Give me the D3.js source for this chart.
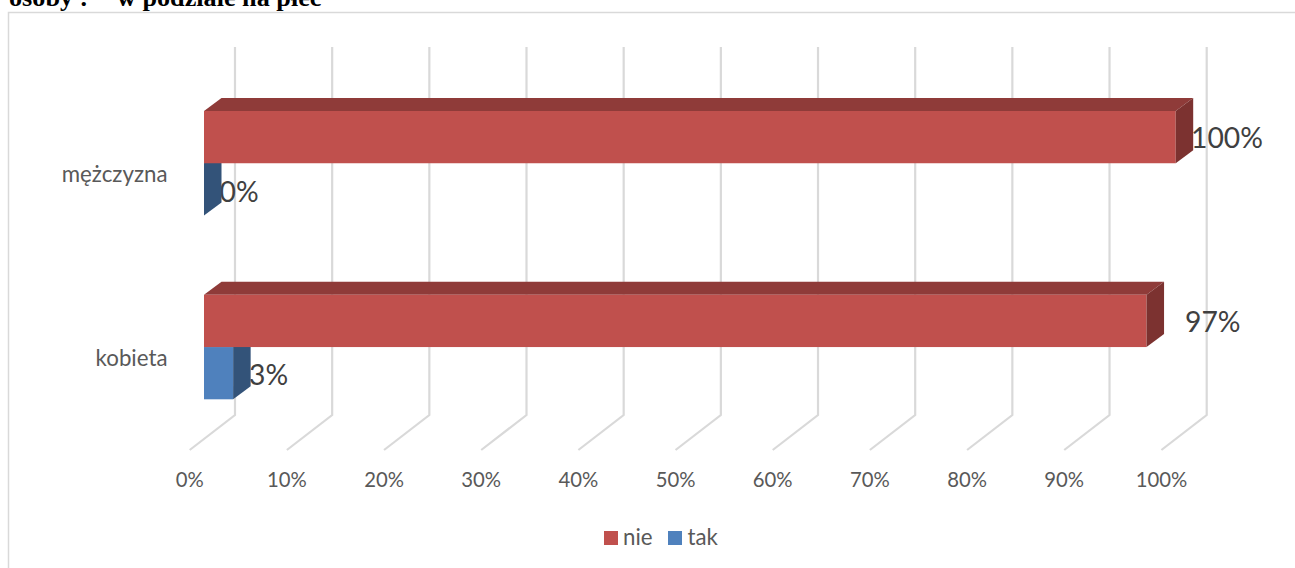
<!DOCTYPE html>
<html><head><meta charset="utf-8">
<script src="https://cdn.jsdelivr.net/npm/d3@7"></script>
<style>html,body{margin:0;padding:0;background:#fff}svg{display:block}</style>
</head><body><div id="chart"></div>
<script>
const categories = ["mężczyzna", "kobieta"];
const seriesNames = ["nie", "tak"];
const nieValues = [100, 97];
const takValues = [0, 3];
const tickValues = [0,10,20,30,40,50,60,70,80,90,100];
const colors = {nie:"#c0504d", tak:"#4f81bd"};
const topColors = {nie:"#8f3b39", tak:"#3a5f8c"};
const sideColors = {nie:"#7c3230", tak:"#335379"};
const W=1295,H=568;
const sans="Lato, 'Open Sans', sans-serif";
const svg=d3.select("#chart").append("svg").attr("width",W).attr("height",H);
const dx=17.5, dy=13;
const x=d3.scaleLinear().domain([0,100]).range([204,1175.7]);
const yCat=d3.scaleBand().domain(categories).range([111,399.3]).paddingInner(0.4315).paddingOuter(0);
const ySer=d3.scaleBand().domain(seriesNames).range([0,yCat.bandwidth()]);

const serif="'Liberation Serif',serif";
svg.append("text").attr("x",9).attr("y",5.5).attr("font-family",serif).attr("font-weight","bold")
  .attr("font-size",26.2).attr("fill","#000").text("osoby :");
svg.append("text").attr("x",117).attr("y",5.5).attr("font-family",serif).attr("font-weight","bold")
  .attr("font-size",26.2).attr("fill","#000").text("w podziale na płeć");
svg.append("path").attr("d",`M8.5,568V12.5H1295`).attr("fill","none").attr("stroke","#d9d9d9").attr("stroke-width",1.5);

const gridTop=47, gridBottom=415, floorY=450;
const floorBack=31, floorFront=-14.3;
const grid=svg.append("g");
tickValues.forEach(t=>{
  grid.append("path")
   .attr("d",`M${x(t)+floorBack},${gridTop}V${gridBottom}L${x(t)+floorFront},${floorY}`)
   .attr("fill","none").attr("stroke","#d9d9d9").attr("stroke-width",2.2);
  svg.append("text").attr("x",x(t)+floorFront).attr("y",487).attr("text-anchor","middle")
   .attr("font-family",sans).attr("font-size",20.3).attr("fill","#595959").text(t+"%");
});

const labelPos={nie:[[1191,147.5],[1185,332]],tak:[[219.5,201.5],[249,385]]};
[["nie",nieValues],["tak",takValues]].forEach(([n,vals])=>{
  vals.forEach((v,i)=>{
    svg.append("text").attr("x",labelPos[n][i][0]).attr("y",labelPos[n][i][1])
     .attr("font-family",sans).attr("font-size",28.3).attr("fill","#404040").text(v+"%");
  });
});

function bar(g,name,cat,v){
  const x0=x(0),x1=x(v),y0=yCat(cat)+ySer(name),y1=y0+ySer.bandwidth();
  const pts=a=>a.map(p=>p.join(",")).join(" ");
  if(v>0){
    g.append("polygon").attr("points",pts([[x0,y0],[x0+dx,y0-dy],[x1+dx,y0-dy],[x1,y0]])).attr("fill",topColors[name]);
    g.append("rect").attr("x",x0).attr("y",y0).attr("width",x1-x0).attr("height",y1-y0).attr("fill",colors[name]);
  }
  g.append("polygon").attr("points",pts([[x1,y0],[x1+dx,y0-dy],[x1+dx,y1-dy],[x1,y1]])).attr("fill",sideColors[name]);
}
const bars=svg.append("g");
[["tak",takValues],["nie",nieValues]].forEach(([n,vals])=>{
  categories.forEach((c,i)=>bar(bars,n,c,vals[i]));
});

categories.forEach(c=>{
  svg.append("text").attr("x",167.5).attr("y",yCat(c)+yCat.bandwidth()/2+19).attr("text-anchor","end")
   .attr("font-family",sans).attr("font-size",22.3).attr("fill","#595959").text(c);
});

const legend=[["nie",604,623],["tak",668,687.5]];
legend.forEach(([n,a,b])=>{
  svg.append("rect").attr("x",a).attr("y",531).attr("width",14).attr("height",14).attr("fill",colors[n]);
  svg.append("text").attr("x",b).attr("y",545).attr("font-family",sans).attr("font-size",22.3).attr("fill","#595959").text(n);
});
</script></body></html>
